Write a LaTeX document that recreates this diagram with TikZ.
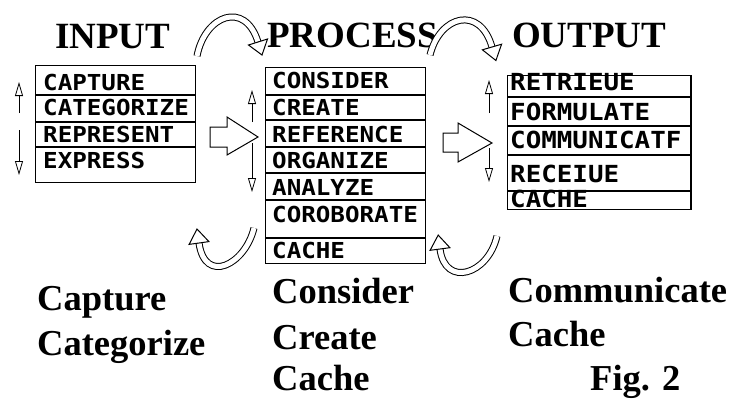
\documentclass[tikz,border=0pt]{standalone}
\usepackage{fontspec}
\setmainfont{Liberation Serif}
\newfontfamily\boxfont[FakeStretch=1.1]{DejaVu Sans Mono}
\usetikzlibrary{arrows.meta}
\begin{document}
\begin{tikzpicture}[x=1pt,y=-1pt,
  title/.style={font=\fontsize{37}{40}\selectfont\bfseries, anchor=base west, inner sep=0},
  caption/.style={font=\fontsize{36.5}{40}\selectfont\bfseries, anchor=base west, inner sep=0},
  item/.style={font=\fontsize{22}{24}\selectfont\boxfont\bfseries, anchor=base west, inner sep=0},
  itemo/.style={font=\fontsize{23.5}{24}\selectfont\boxfont\bfseries, anchor=base west, inner sep=0},
  listbox/.style={draw, line width=1.1pt, inner sep=0, anchor=north west},
  rowline/.style={line width=1.1pt},
  hollow/.style={draw, line width=1pt, fill=white, line join=miter},
  shaft/.style={draw, line width=1pt, double=white, double distance=5pt},
  thinarrow/.style={line width=0.8pt, -{Triangle[open, length=14pt, width=8pt]}}
]
\useasboundingbox (0,0) rectangle (733,399);

% titles
\node[title] (tin) at (55,48) {INPUT};
\node[title] (tproc) at (267,47) {PROCESS};
\node[title] (tout) at (512,47) {OUTPUT};

% input box
\node[listbox, minimum width=160pt, minimum height=117pt] (inbox) at (35,65) {};
\foreach \yy in {95,122,147} \draw[rowline] (inbox.west |- 0,\yy) -- (inbox.east |- 0,\yy);
\node[item] (i1) at (43,90) {CAPTURE};
\node[item] (i2) at (43,115) {CATEGORIZE};
\node[item] (i3) at (43,142) {REPRESENT};
\node[item] (i4) at (43,168) {EXPRESS};

% process box
\node[listbox, minimum width=160pt, minimum height=196pt] (pbox) at (265,67) {};
\foreach \yy in {95,120,147,173,200,238} \draw[rowline] (pbox.west |- 0,\yy) -- (pbox.east |- 0,\yy);
\node[item] (p1) at (272,88) {CONSIDER};
\node[item] (p2) at (272,115) {CREATE};
\node[item] (p3) at (272,142) {REFERENCE};
\node[item] (p4) at (272,168) {ORGANIZE};
\node[item] (p5) at (272,195) {ANALYZE};
\node[item] (p6) at (272,222) {COROBORATE};
\node[item] (p7) at (272,258) {CACHE};

% output box
\node[listbox, minimum width=183pt, minimum height=134pt] (obox) at (507,75) {};
\draw[line width=2.2pt] (obox.north east) -- (obox.south east);
\foreach \yy in {97,126,155,191} \draw[rowline] (obox.west |- 0,\yy) -- (obox.east |- 0,\yy);
\node[itemo] (o1) at (510,90) {RETRIEUE};
\node[itemo] (o2) at (510,120) {FORMULATE};
\node[itemo] (o3) at (510,148) {COMMUNICATF};
\node[itemo] (o4) at (510,182) {RECEIUE};
\node[itemo] (o5) at (510,207) {CACHE};

% thin up/down arrows
\coordinate (ua1) at (19,113); \coordinate (ua2) at (19,82);
\coordinate (da1) at (19,130); \coordinate (da2) at (19,175);
\draw[thinarrow] (ua1) -- (ua2);
\draw[thinarrow] (da1) -- (da2);
\coordinate (ub1) at (252,122); \coordinate (ub2) at (252,90);
\coordinate (db1) at (252,143); \coordinate (db2) at (252,192);
\draw[thinarrow] (ub1) -- (ub2);
\draw[thinarrow] (db1) -- (db2);
\coordinate (uc1) at (489,113); \coordinate (uc2) at (489,80);
\coordinate (dc1) at (489,148); \coordinate (dc2) at (489,182);
\draw[thinarrow] (uc1) -- (uc2);
\draw[thinarrow] (dc1) -- (dc2);

% big hollow straight arrows
\draw[hollow] (210,127) -- (227,127) -- (227,117) -- (258,137) -- (227,155) -- (227,147) -- (210,147) -- cycle;
\draw[hollow] (443,133) -- (458,133) -- (458,123) -- (492,143) -- (458,162) -- (458,152) -- (443,152) -- cycle;

% curved hollow arrows
\coordinate (c1s) at (197,56); \coordinate (c1e) at (258,42);
\draw[shaft] (c1s) .. controls (205,15) and (245,0) .. (c1e);
\draw[hollow] (248.5,45) -- (262,55) -- (267.5,39) -- cycle;

\coordinate (c2s) at (430,55); \coordinate (c2e) at (492,47);
\draw[shaft] (c2s) .. controls (440,15) and (480,5) .. (c2e);
\draw[hollow] (482.4,49.8) -- (495.9,60.5) -- (501.6,44.2) -- cycle;

\coordinate (c3s) at (254,228); \coordinate (c3e) at (199,243);
\draw[shaft] (c3s) .. controls (245,265) and (205,285) .. (c3e);
\draw[hollow] (208.9,241.6) -- (197,229) -- (189.1,244.4) -- cycle;

\coordinate (c4s) at (497,236); \coordinate (c4e) at (440,249);
\draw[shaft] (c4s) .. controls (488,275) and (445,288) .. (c4e);
\draw[hollow] (449.9,247.7) -- (438.2,235.1) -- (430.1,250.3) -- cycle;

% captions
\node[caption] (k1) at (37,310) {Capture};
\node[caption] (k2) at (37,355) {Categorize};
\node[caption] (k3) at (272,303) {Consider};
\node[caption] (k4) at (272,349) {Create};
\node[caption] (k5) at (272,390) {Cache};
\node[caption] (k6) at (508,302) {Communicate};
\node[caption] (k7) at (508,346) {Cache};
\node[caption] (k8) at (590,390) {Fig. 2};
\end{tikzpicture}
\end{document}
